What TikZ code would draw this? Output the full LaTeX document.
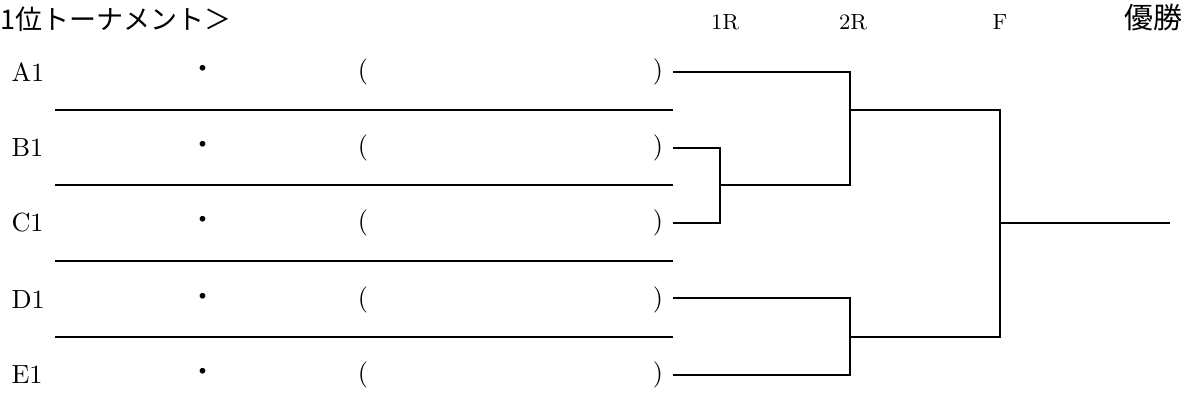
\documentclass[tikz,border=0pt]{standalone}
\usepackage{fontspec}
\usepackage{tikz}
\newfontfamily\cjk{Noto Sans CJK JP}
\definecolor{tnblack}{RGB}{0,0,0}
\tikzset{
  tnlabel/.style={inner sep=0pt, font=\fontsize{10.5}{12}\selectfont},
  tnhead/.style={inner sep=0pt, font=\fontsize{8.8}{10}\selectfont},
  tnjp/.style={inner sep=0pt, font=\fontsize{10.8}{13}\selectfont\cjk},
  tnsep/.style={line width=0.5pt, draw=tnblack},
  tnline/.style={line width=0.85pt, draw=tnblack}
}
\begin{document}
\begin{tikzpicture}[x=0.4pt, y=-0.4pt]
  \useasboundingbox (0,0) rectangle (1192,412);
  % titles
  \node[tnjp, anchor=west] (title) at (0,19) {1位トーナメント＞};
  \node[tnhead] (h1) at (725,22) {1R};
  \node[tnhead] (h2) at (853,22) {2R};
  \node[tnhead] (h3) at (1000,22) {F};
  \node[tnjp, font=\fontsize{11.6}{13}\selectfont\cjk] (win) at (1153,18) {優勝};
  % entries
  \node[tnlabel, anchor=west] (nA) at (11,72) {A1};
  \node[tnlabel, anchor=west] (nB) at (11,148) {B1};
  \node[tnlabel, anchor=west] (nC) at (11,223) {C1};
  \node[tnlabel, anchor=west] (nD) at (11,300) {D1};
  \node[tnlabel, anchor=west] (nE) at (11,375) {E1};
  \node[tnjp] (dA) at (203,72) {・};
  \node[tnjp] (dB) at (203,148) {・};
  \node[tnjp] (dC) at (203,223) {・};
  \node[tnjp] (dD) at (203,300) {・};
  \node[tnjp] (dE) at (203,375) {・};
  \node[tnlabel] (oA) at (363,72) {(};
  \node[tnlabel] (oB) at (363,148) {(};
  \node[tnlabel] (oC) at (363,223) {(};
  \node[tnlabel] (oD) at (363,300) {(};
  \node[tnlabel] (oE) at (363,375) {(};
  \node[tnlabel] (pA) at (658,72) {)};
  \node[tnlabel] (pB) at (658,148) {)};
  \node[tnlabel] (pC) at (658,223) {)};
  \node[tnlabel] (pD) at (658,300) {)};
  \node[tnlabel] (pE) at (658,375) {)};
  % separators
  \draw[tnsep] (55,110) -- (673,110);
  \draw[tnsep] (55,185) -- (673,185);
  \draw[tnsep] (55,261) -- (673,261);
  \draw[tnsep] (55,337) -- (673,337);
  % bracket
  \coordinate (eA) at (673,72);
  \coordinate (eB) at (673,148);
  \coordinate (eC) at (673,223);
  \coordinate (eD) at (673,298);
  \coordinate (eE) at (673,375);
  \coordinate (m1) at (720,185);
  \coordinate (m2) at (850,110);
  \coordinate (m3) at (850,337);
  \coordinate (m4) at (1000,223);
  \coordinate (mW) at (1170,223);
  \draw[tnline] (eB) -| (m1) |- (eC);
  \draw[tnline] (eA) -| (m2) |- (m1);
  \draw[tnline] (eD) -| (m3) |- (eE);
  \draw[tnline] (m2) -| (m4) |- (m3);
  \draw[tnline] (m4) -- (mW);
\end{tikzpicture}
\end{document}
